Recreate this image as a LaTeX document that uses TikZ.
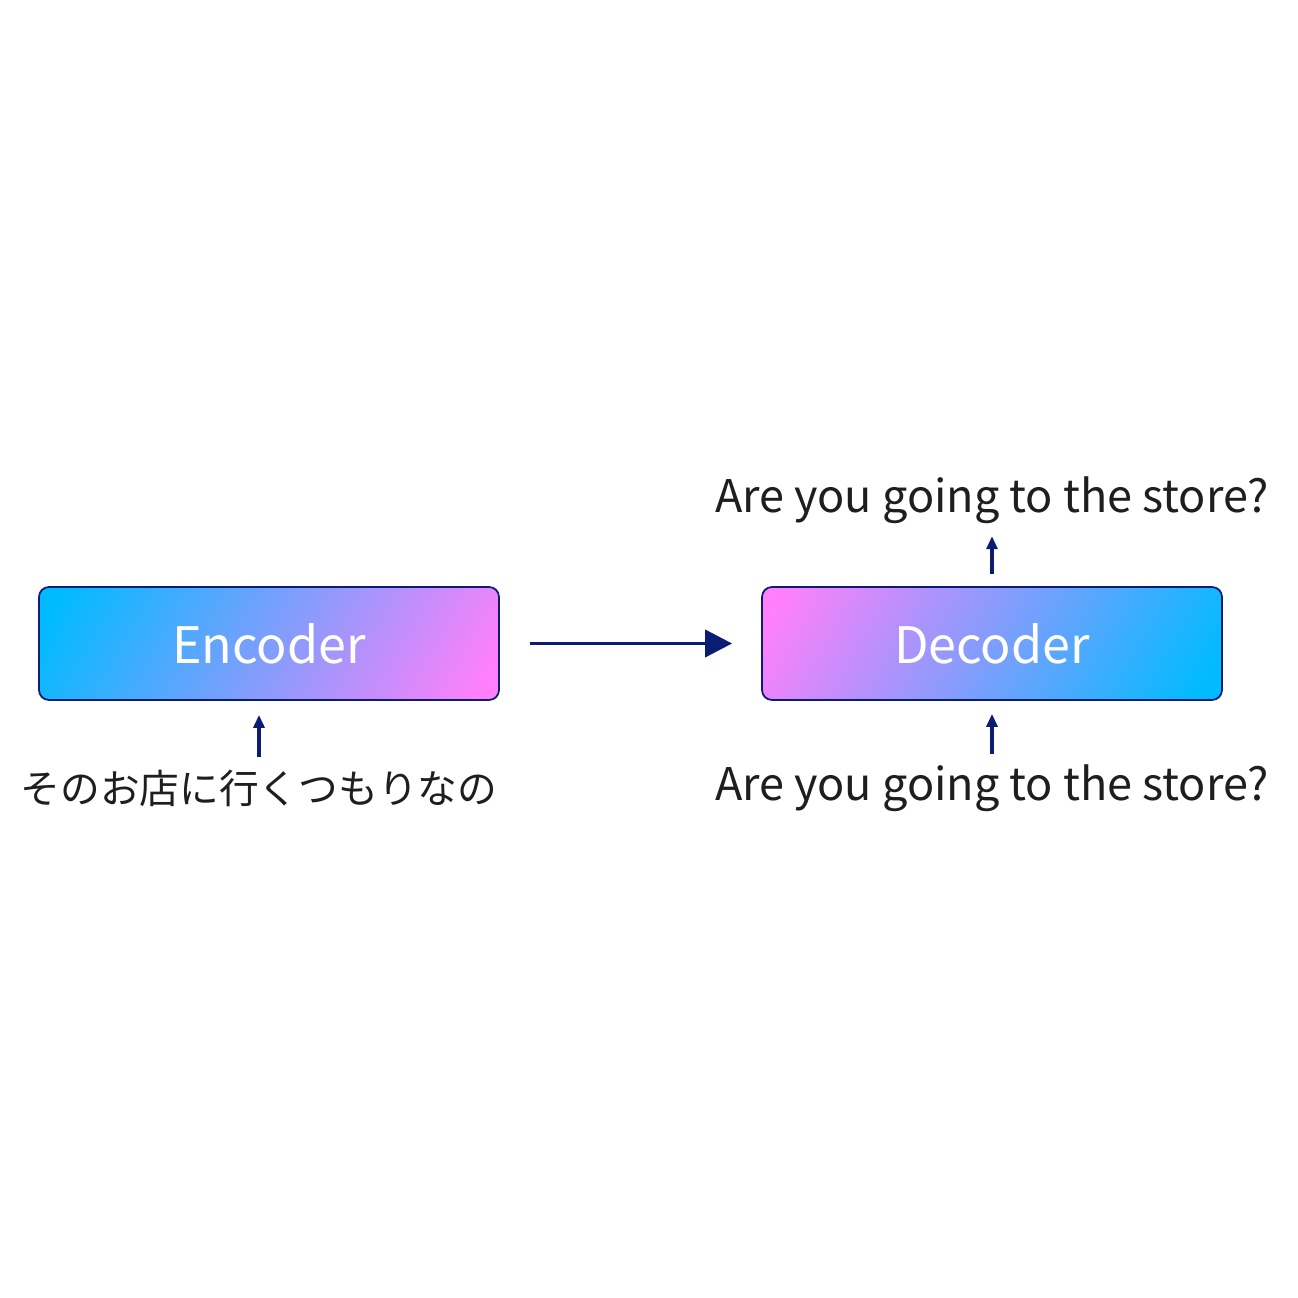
\documentclass[tikz,border=0pt]{standalone}
\usepackage{fontspec}
\setmainfont{Noto Sans CJK JP}
\newfontfamily\jpfont{Noto Sans CJK JP}
\usetikzlibrary{positioning,calc}
\usetikzlibrary{arrows.meta}
\definecolor{SkyCyan}{RGB}{0,187,255}
\definecolor{SoftPink}{RGB}{255,128,250}
\definecolor{NavyLine}{RGB}{10,28,115}
\definecolor{TextGrey}{RGB}{30,30,30}
\pgfdeclarehorizontalshading{cyantopink}{100bp}{color(0bp)=(SkyCyan); color(19bp)=(SkyCyan); color(81bp)=(SoftPink); color(100bp)=(SoftPink)}
\pgfdeclarehorizontalshading{pinktocyan}{100bp}{color(0bp)=(SoftPink); color(19bp)=(SoftPink); color(81bp)=(SkyCyan); color(100bp)=(SkyCyan)}
\tikzset{block/.style={draw=NavyLine,line width=0.5pt,rounded corners=1mm,minimum width=4.6cm,minimum height=1.13cm,text=white,font=\fontsize{14.3}{16}\selectfont},
  txt/.style={text=TextGrey,inner sep=0pt,font=\fontsize{12.8}{15}\selectfont},
  bigarrow/.style={draw=NavyLine,line width=1.1pt,-{Triangle[length=2.7mm,width=2.7mm]}},
  smallarrow/.style={draw=NavyLine,line width=0.9pt,-{Triangle[length=1.3mm,width=1.1mm]}}}
\begin{document}
\begin{tikzpicture}
\useasboundingbox (0,0) rectangle (12.98,12.98);
\node[block,shade,shading=cyantopink,shading angle=-30] (enc) at (2.69,6.545) {Encoder};
\node[block,shade,shading=pinktocyan,shading angle=-30] (dec) at (9.92,6.545) {Decoder};
\node[txt,font=\jpfont\fontsize{11.3}{14}\selectfont] (src) at (2.59,5.10) {そのお店に行くつもりなの};
\node[txt] (tgtin) at (9.92,5.10) {Are you going to the store?};
\node[txt] (tgtout) at (9.92,7.98) {Are you going to the store?};
\draw[bigarrow,shorten <=3mm,shorten >=2.9mm] (enc.east) -- (dec.west);
\draw[smallarrow,shorten <=1.2mm,shorten >=1.4mm] (src.north) -- (src.north |- enc.south);
\draw[smallarrow,shorten <=1mm,shorten >=1.3mm] (tgtin.north) -- (dec.south);
\draw[smallarrow,shorten <=1.2mm,shorten >=1.2mm] (dec.north) -- (tgtout.south);
\end{tikzpicture}
\end{document}
